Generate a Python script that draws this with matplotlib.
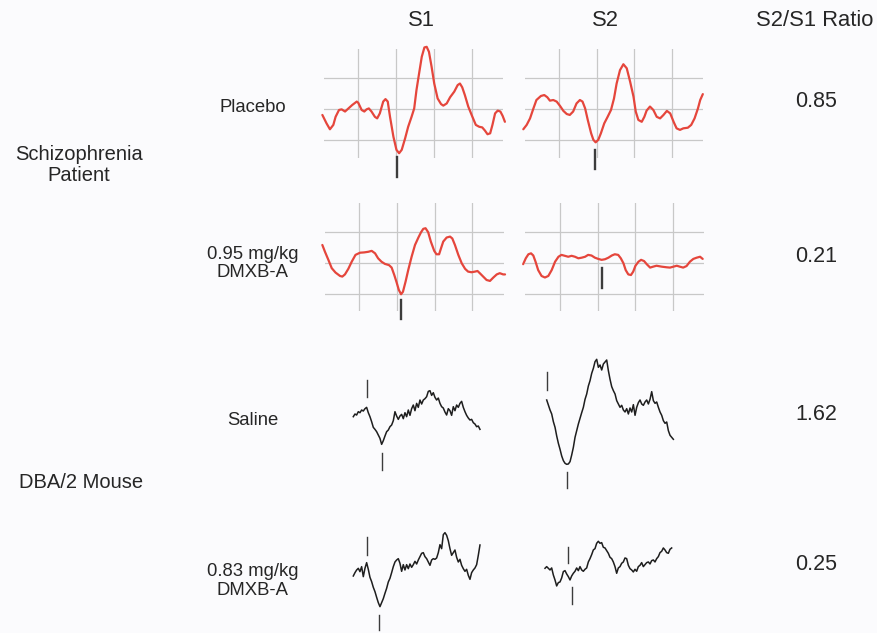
import numpy as np
import matplotlib
matplotlib.use("Agg")
import matplotlib.pyplot as plt

plt.rcParams['font.family'] = ['Liberation Sans', 'DejaVu Sans']

# ---------------- data ----------------
columns = ["S1", "S2"]
ratio_header = "S2/S1 Ratio"
groups = ["Schizophrenia\nPatient", "DBA/2 Mouse"]
conditions = ["Placebo", "0.95 mg/kg\nDMXB-A", "Saline", "0.83 mg/kg\nDMXB-A"]
ratios = [0.85, 0.21, 1.62, 0.25]

# Human P50 traces: time in grid divisions, amplitude in grid divisions
placebo_s1_t = [0.05, 0.16, 0.25, 0.34, 0.40, 0.49, 0.56, 0.65, 0.74, 0.84, 0.96, 1.00, 1.09, 1.16,
                1.22, 1.28, 1.35, 1.44, 1.50, 1.57, 1.66, 1.72, 1.78, 1.84, 1.93, 2.01, 2.08, 2.15,
                2.24, 2.32, 2.41, 2.48, 2.54, 2.61, 2.68, 2.75, 2.81, 2.87, 2.94, 3.01, 3.10, 3.19,
                3.25, 3.34, 3.43, 3.54, 3.63, 3.69, 3.75, 3.82, 3.91, 4.02, 4.11, 4.20, 4.28, 4.35,
                4.42, 4.49, 4.55, 4.62, 4.69, 4.76, 4.82, 4.88]
placebo_s1_v = [-0.18, -0.45, -0.64, -0.50, -0.24, -0.02, 0.00, -0.07, 0.03, 0.14, 0.25, 0.21, -0.02, -0.07,
                0.00, 0.03, -0.07, -0.24, -0.29, -0.13, 0.25, 0.33, 0.25, -0.24, -0.88, -1.30, -1.41, -1.30,
                -0.93, -0.56, -0.24, 0.03, 0.62, 1.16, 1.69, 1.99, 2.01, 1.85, 1.37, 0.83, 0.35, 0.17,
                0.12, 0.19, 0.39, 0.57, 0.78, 0.83, 0.71, 0.46, 0.09, -0.24, -0.50, -0.56, -0.58, -0.68,
                -0.80, -0.77, -0.50, -0.13, -0.04, -0.07, -0.21, -0.40]
placebo_s1_mark = (2.02, -1.52, -2.18)

placebo_s2_t = [0.04, 0.13, 0.22, 0.31, 0.39, 0.51, 0.60, 0.68, 0.75, 0.84, 0.93, 1.02, 1.11, 1.20,
                1.28, 1.37, 1.46, 1.55, 1.62, 1.69, 1.76, 1.85, 1.91, 1.97, 2.04, 2.11, 2.20, 2.29,
                2.38, 2.46, 2.53, 2.62, 2.71, 2.80, 2.89, 2.98, 3.04, 3.11, 3.20, 3.27, 3.33, 3.42,
                3.51, 3.60, 3.69, 3.78, 3.87, 3.96, 4.05, 4.13, 4.22, 4.31, 4.43, 4.52, 4.61, 4.70,
                4.76, 4.83]
placebo_s2_v = [-0.64, -0.50, -0.29, 0.03, 0.30, 0.43, 0.46, 0.39, 0.28, 0.30, 0.25, 0.11, -0.05, -0.15,
                -0.18, -0.07, 0.19, 0.30, 0.25, 0.03, -0.34, -0.77, -0.98, -1.06, -0.98, -0.77, -0.45, -0.24,
                -0.02, 0.35, 0.83, 1.26, 1.45, 1.32, 0.89, 0.41, -0.07, -0.34, -0.40, -0.24, -0.04, 0.09,
                -0.02, -0.24, -0.29, -0.18, -0.05, -0.13, -0.40, -0.61, -0.66, -0.61, -0.59, -0.50, -0.29, 0.03,
                0.30, 0.49]
placebo_s2_mark = (1.94, -1.30, -1.93)

dmxb_s1_t = [0.02, 0.09, 0.18, 0.27, 0.37, 0.49, 0.55, 0.62, 0.71, 0.80, 0.90, 1.02, 1.13, 1.24,
             1.33, 1.42, 1.50, 1.59, 1.68, 1.79, 1.86, 1.93, 1.99, 2.05, 2.11, 2.16, 2.23, 2.30,
             2.39, 2.48, 2.57, 2.64, 2.70, 2.76, 2.83, 2.90, 2.99, 3.05, 3.12, 3.17, 3.23, 3.32,
             3.41, 3.47, 3.54, 3.63, 3.72, 3.81, 3.89, 3.98, 4.07, 4.14, 4.20, 4.29, 4.38, 4.47,
             4.56, 4.65, 4.73, 4.82, 4.87]
dmxb_s1_v = [0.57, 0.35, 0.09, -0.18, -0.32, -0.43, -0.45, -0.38, -0.20, 0.03, 0.25, 0.32, 0.33, 0.35,
             0.38, 0.30, 0.14, 0.03, -0.04, -0.08, -0.16, -0.40, -0.63, -0.88, -1.02, -0.94, -0.61, -0.24,
             0.19, 0.57, 0.81, 0.98, 1.09, 1.11, 0.98, 0.68, 0.38, 0.27, 0.27, 0.46, 0.68, 0.81,
             0.84, 0.78, 0.57, 0.25, -0.02, -0.20, -0.29, -0.31, -0.29, -0.27, -0.34, -0.45, -0.56, -0.59,
             -0.48, -0.38, -0.34, -0.38, -0.38]
dmxb_s1_mark = (2.11, -1.20, -1.82)

dmxb_s2_t = [0.02, 0.09, 0.16, 0.23, 0.29, 0.35, 0.42, 0.51, 0.60, 0.69, 0.78, 0.87, 0.96, 1.04,
             1.13, 1.22, 1.31, 1.40, 1.49, 1.58, 1.67, 1.75, 1.84, 1.93, 2.02, 2.11, 2.20, 2.29,
             2.38, 2.46, 2.55, 2.62, 2.69, 2.75, 2.82, 2.89, 2.95, 3.01, 3.09, 3.16, 3.24, 3.31,
             3.40, 3.48, 3.57, 3.71, 3.84, 3.93, 4.02, 4.11, 4.19, 4.28, 4.37, 4.46, 4.55, 4.64,
             4.73, 4.80]
dmxb_s2_v = [-0.05, 0.14, 0.27, 0.30, 0.23, 0.03, -0.24, -0.43, -0.48, -0.43, -0.24, 0.03, 0.19, 0.25,
             0.22, 0.19, 0.22, 0.19, 0.14, 0.16, 0.19, 0.25, 0.23, 0.16, 0.12, 0.09, 0.11, 0.16,
             0.23, 0.27, 0.25, 0.14, -0.02, -0.24, -0.38, -0.40, -0.29, -0.10, 0.03, 0.09, 0.05, -0.05,
             -0.16, -0.13, -0.10, -0.13, -0.15, -0.16, -0.13, -0.10, -0.13, -0.16, -0.11, 0.03, 0.12, 0.16,
             0.19, 0.12]
dmxb_s2_mark = (2.13, -0.18, -0.83)

# Mouse traces: amplitude samples (arbitrary units), sampled every 5 time units
saline_s1_amp = [0, 8, 5, 15, 12, 20, 17, 24, 28, 12, 0, -15, -32, -38, -45, -55, -65, -83, -72, -58,
                 -45, -40, -30, -25, -12, 15, 2, -8, 2, 7, -6, 12, 0, 20, 4, 24, 35, 18, 40, 28,
                 50, 38, 50, 54, 60, 76, 78, 64, 72, 58, 50, 56, 40, 30, 26, 14, 5, 24, 18, 4,
                 30, 18, 35, 28, 40, 46, 28, 15, 4, -4, -10, -8, -18, -22, -30, -28, -38]
saline_s1_marks = [(40, 110, 60), (87, -110, -160)]

saline_s2_amp = [0, -15, -30, -42, -65, -82, -108, -130, -148, -168, -182, -190, -193, -192, -185, -165,
                 -142, -112, -92, -72, -55, -38, -22, 2, 18, 42, 58, 80, 95, 115, 122, 98, 105, 90,
                 108, 114, 120, 88, 62, 40, 28, 18, -2, -12, -22, -16, -30, -36, -26, -42, -24, -36,
                 -14, -46, -22, -8, 0, -12, -16, -6, 0, -12, 2, 25, -2, -10, -6, -22, -36, -46,
                 -62, -70, -66, -92, -106, -112, -118]
saline_s2_marks = [(0, 85, 30), (60, -215, -265)]

mdmxb_s1_amp = [0, 10, 18, 23, 13, 28, -2, 23, 40, 20, -4, -17, -34, -47, -64, -80, -92, -80, -68, -52,
                -37, -18, -7, 10, 28, 42, 48, 52, 38, 14, 34, 18, 34, 22, 36, 26, 34, 44, 36, 48,
                58, 68, 70, 58, 52, 42, 32, 48, 52, 50, 54, 70, 94, 82, 124, 130, 122, 106, 82, 62,
                70, 78, 56, 42, 50, 32, 22, 14, 20, 2, -10, 10, 18, 24, 34, 62, 93]
mdmxb_s1_marks = [(40, 116, 63), (78, -117, -162)]

mdmxb_s2_amp = [0, 5, 0, -5, 1, -20, -35, -53, -43, -41, -29, -10, -7, -17, -25, -35, -23, -15, -9, 1,
                -7, 5, -5, -9, -3, 1, 19, 29, 41, 55, 59, 75, 81, 75, 77, 63, 61, 53, 45, 33,
                29, 19, 5, -15, 1, 5, 15, 19, 31, 29, 9, -1, -5, -11, -3, -9, 5, 9, 17, 5,
                11, 17, 19, 13, 23, 25, 19, 29, 35, 47, 51, 61, 55, 47, 45, 57, 61]
mdmxb_s2_marks = [(68, 65, 15), (80, -55, -107)]
sample_step = 5

# ---------------- figure ----------------
W, H = 877, 633
fig = plt.figure(figsize=(W / 100, H / 100), dpi=100, facecolor='#fbfbfd')

RED = '#e5463c'
GRIDC = '#c8c8c8'
MARKC = '#3c3c3c'
TXT = '#262626'


def px_axes(left, top, w, h):
    ax = fig.add_axes([left / W, 1 - (top + h) / H, w / W, h / H])
    ax.set_facecolor('none')
    for s in ax.spines.values():
        s.set_visible(False)
    return ax


def human_panel(rect, t, v, mark):
    ax = px_axes(*rect)
    ax.set_xlim(0.08, 4.84)
    ax.set_ylim(-1.57, 1.94)
    ax.set_xticks([1, 2, 3, 4])
    ax.set_yticks([-1, 0, 1])
    ax.tick_params(length=0, labelleft=False, labelbottom=False)
    ax.grid(True, color=GRIDC, lw=0.9)
    ax.set_axisbelow(True)
    ax.plot(t, v, color=RED, lw=1.6, clip_on=False, solid_capstyle='round', zorder=3)
    ax.plot([mark[0], mark[0]], [mark[1], mark[2]], color=MARKC, lw=1.7, clip_on=False, zorder=3)


def mouse_panel(rect, amp, marks):
    ax = px_axes(*rect)
    ax.set_xlim(-30, 420)
    ax.set_ylim(-280, 150)
    ax.set_xticks([])
    ax.set_yticks([])
    t = np.arange(len(amp)) * sample_step
    ax.plot(t, amp, color='#1e1e1e', lw=1.1, clip_on=False)
    for mx, m0, m1 in marks:
        ax.plot([mx, mx], [m0, m1], color=MARKC, lw=1.0, clip_on=False)


human_panel((323.5, 49, 179.9, 109.2), placebo_s1_t, placebo_s1_v, placebo_s1_mark)
human_panel((524.8, 49, 178.4, 109.2), placebo_s2_t, placebo_s2_v, placebo_s2_mark)
human_panel((324.6, 202.5, 179.3, 108.8), dmxb_s1_t, dmxb_s1_v, dmxb_s1_mark)
human_panel((525.4, 202.5, 178.8, 108.8), dmxb_s2_t, dmxb_s2_v, dmxb_s2_mark)

mouse_panel((343.3, 366.7, 150, 143.3), saline_s1_amp, saline_s1_marks)
mouse_panel((536.7, 350.0, 150, 143.3), saline_s2_amp, saline_s2_marks)
mouse_panel((343.3, 526.0, 150, 143.3), mdmxb_s1_amp, mdmxb_s1_marks)
mouse_panel((535.0, 518.3, 150, 143.3), mdmxb_s2_amp, mdmxb_s2_marks)


def ftext(x, y, s, size, **kw):
    fig.text(x / W, 1 - y / H, s, fontsize=size, color=TXT, ha='center', va='center',
             linespacing=1.1, **kw)


# headers
ftext(421, 20.5, columns[0], 15.8)
ftext(605, 20.5, columns[1], 15.8)
ftext(815, 20.5, ratio_header, 15.8)

# group labels
ftext(79, 165, groups[0], 14.5)
ftext(81, 482, groups[1], 14.5)

# condition labels
cond_y = [107, 263.5, 420.7, 581]
for s, y in zip(conditions, cond_y):
    ftext(253, y, s, 13.3)

# ratios
ratio_y = [101.7, 256.7, 415, 565]
for r, y in zip(ratios, ratio_y):
    ftext(816, y, f"{r:.2f}", 15.5)

fig.savefig("out.png", dpi=100, facecolor=fig.get_facecolor())
